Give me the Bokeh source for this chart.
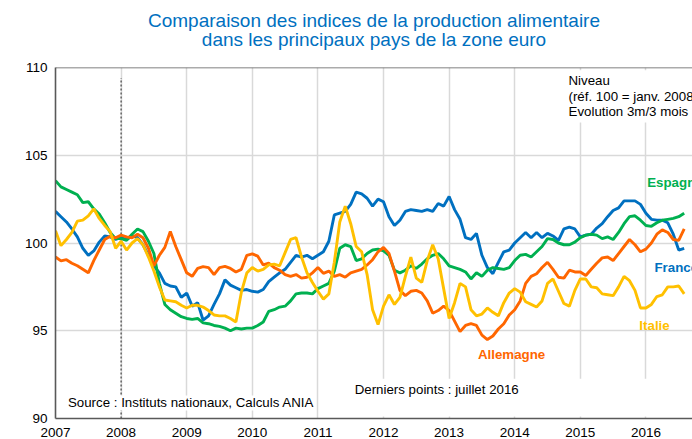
from bokeh.plotting import figure
from bokeh.models import Range1d, FixedTicker, Span, Label, BoxAnnotation, Title
from bokeh.embed import file_html
from bokeh.resources import INLINE

# ---- data (monthly, index 0 = January 2007) ----
n_months = 116
months = list(range(n_months))
year_ticks = [2007, 2008, 2009, 2010, 2011, 2012, 2013, 2014, 2015, 2016]
value_ticks = [90, 95, 100, 105, 110]
ref_year = [2008]  # base 100 = janv. 2008

france = [101.8, 101.5, 101.2, 100.8, 100.35, 99.7, 99.3, 99.55, 100.05, 100.4,
          100.35, 100.2, 100.3, 100.2, 100.4, 100.3, 99.9, 99.3, 98.7, 98.3,
          97.7, 97.55, 97.5, 96.9, 97.15, 96.4, 96.6, 95.6, 95.85, 96.5,
          97.1, 97.9, 97.6, 97.45, 97.3, 97.35, 97.25, 97.2, 97.35, 97.8,
          98.05, 98.3, 98.5, 98.9, 99.3, 99.2, 99.3, 99.1, 99.3, 99.5,
          100.1, 101.6, 101.7, 101.8, 102.2, 102.9, 102.8, 102.55, 102.1, 102.5,
          102.35, 101.5, 101.0, 101.3, 101.8, 101.9, 101.85, 101.8, 101.9, 101.8,
          102.25, 102.1, 102.65, 101.9, 101.35, 100.3, 100.2, 100.55, 99.3, 98.6,
          98.25, 98.9, 99.5, 99.6, 100.0, 100.3, 100.6, 100.3, 100.6, 100.3,
          100.55, 100.4, 100.15, 100.8, 100.9, 100.8, 100.35, 100.45, 100.5, 100.85,
          101.1, 101.5, 101.85, 102.0, 102.4, 102.4, 102.4, 102.2, 101.7, 101.35,
          101.3, 101.3, 101.15, 100.5, 99.6, 99.7]

allemagne = [99.2, 98.98, 99.05, 98.85, 98.7, 98.5, 98.3, 99.0, 99.6, 100.2,
             100.38, 100.3, 100.45, 100.35, 100.3, 100.5, 100.3, 99.7, 98.7, 99.3,
             99.75, 100.65, 99.8, 99.05, 98.3, 98.1, 98.55, 98.65, 98.6, 98.2,
             98.6, 98.67, 98.55, 98.35, 98.5, 99.3, 99.38, 99.25, 98.75, 98.85,
             98.6, 98.45, 98.2, 98.1, 98.2, 98.0, 98.05, 98.3, 98.6, 98.27,
             98.4, 98.1, 98.2, 98.05, 98.3, 98.4, 98.5, 98.75, 99.05, 99.5,
             99.75, 99.4, 98.4, 97.3, 97.0, 97.25, 97.3, 97.15, 96.7, 96.0,
             96.15, 96.4, 96.15, 95.55, 94.95, 95.3, 95.4, 95.3, 94.75, 94.5,
             94.7, 95.1, 95.4, 95.9, 96.2, 96.7, 97.7, 98.1, 98.25, 98.6,
             98.9, 98.5, 98.05, 98.0, 98.45, 98.35, 98.35, 98.15, 98.5, 98.85,
             99.15, 99.2, 99.0, 99.4, 99.8, 100.2, 99.9, 99.5, 99.65, 100.0,
             100.5, 100.75, 100.6, 100.2, 100.15, 100.8]

espagne = [103.55, 103.2, 103.05, 102.9, 102.75, 102.3, 102.35, 101.95, 101.65, 101.15,
           100.6, 100.25, 100.25, 100.15, 100.5, 100.8, 100.65, 100.1, 99.4, 97.7,
           96.5, 96.2, 96.0, 95.8, 95.7, 95.65, 95.7, 95.45, 95.4, 95.3,
           95.25, 95.15, 95.0, 95.15, 95.1, 95.15, 95.15, 95.3, 95.5, 96.1,
           96.2, 96.35, 96.4, 96.7, 97.1, 97.15, 97.15, 97.1, 97.4, 97.55,
           97.7, 98.4, 99.7, 99.9, 99.8, 99.0, 99.1, 99.4, 99.6, 99.65,
           99.55, 99.3, 98.45, 98.3, 98.45, 98.7, 98.55, 98.8, 99.1, 99.3,
           99.4, 99.1, 98.7, 98.6, 98.5, 98.35, 97.95, 98.3, 98.1, 98.45,
           98.6, 98.55, 98.5, 98.6, 99.0, 99.3, 99.35, 99.2, 99.5, 99.8,
           100.25, 100.2, 100.0, 99.9, 99.9, 100.05, 100.3, 100.45, 100.5, 100.45,
           100.25, 100.35, 100.2, 100.6, 101.1, 101.5, 101.55, 101.3, 101.0, 100.95,
           101.15, 101.3, 101.35, 101.4, 101.5, 101.7]

italie = [100.7, 99.85, 100.2, 100.6, 101.25, 101.3, 101.55, 101.95, 101.4, 101.0,
          100.65, 99.7, 100.1, 99.6, 100.0, 100.25, 99.9, 99.2, 98.4, 97.5,
          96.75, 96.7, 96.65, 96.45, 96.3, 96.45, 96.45, 96.35, 96.15, 95.9,
          95.85, 95.85, 95.7, 95.5, 97.2, 98.3, 98.6, 98.4, 98.5, 98.75,
          98.8, 98.7, 99.45, 100.2, 100.3, 99.2, 98.3, 97.75, 97.25, 96.8,
          97.1, 98.9, 101.2, 102.1, 101.1, 99.8, 99.5, 98.2, 96.2, 95.35,
          96.4, 97.05, 96.5, 96.9, 98.1, 99.2, 98.0, 97.75, 99.0, 99.9,
          99.1, 97.4, 95.7, 96.6, 97.7, 97.5, 96.2, 95.85, 95.95, 96.3,
          96.05, 95.85, 96.6, 97.15, 97.4, 97.2, 96.65, 96.5, 96.35, 96.7,
          97.7, 97.95, 97.25, 96.55, 96.4, 97.3, 97.95, 97.95, 97.5, 97.45,
          97.1, 97.05, 97.0, 97.5, 98.1, 97.85, 97.3, 96.3, 96.3, 96.5,
          96.95, 97.05, 97.5, 97.5, 97.55, 97.1]

dates = [2007 + m / 12 for m in months]

FONT = "Liberation Sans"
BLUE, GREEN, ORANGE, YELLOW = "#0070C0", "#00B050", "#FF6600", "#FFC000"
AXIS = "#595959"

p = figure(width=692, height=439, output_backend="svg", toolbar_location=None,
           x_range=Range1d(2007, 2016.71), y_range=Range1d(90, 110),
           min_border_left=55, min_border_right=0, min_border_top=67, min_border_bottom=0)
p.outline_line_color = None
p.background_fill_color = "white"
p.border_fill_color = "white"

# spacer between title and frame, then the two-line centred title
p.add_layout(Title(text=" ", text_font_size="1px", standoff=14), "above")
p.add_layout(Title(text="Comparaison des indices de la production alimentaire\n"
                        "dans les principaux pays de la zone euro",
                   align="center", text_align="center", text_font=FONT,
                   text_font_size="19px", text_font_style="normal", text_color=BLUE,
                   text_line_height=0.92, standoff=0), "above")

# axes
for ax in (p.xaxis, p.yaxis):
    ax.axis_line_color = AXIS
    ax.axis_line_width = 1.6
    ax.major_tick_line_color = None
    ax.minor_tick_line_color = None
    ax.major_tick_out = 0
    ax.major_tick_in = 0
    ax.minor_tick_out = 0
    ax.minor_tick_in = 0
    ax.major_label_text_font = FONT
    ax.major_label_text_font_size = "13.5px"
    ax.major_label_text_color = "#000000"
p.xaxis.ticker = FixedTicker(ticks=year_ticks)
p.yaxis.ticker = FixedTicker(ticks=value_ticks)
p.xaxis.major_label_standoff = 9
p.yaxis.major_label_standoff = 8

p.xgrid.ticker = FixedTicker(ticks=year_ticks)
p.ygrid.ticker = FixedTicker(ticks=value_ticks)
p.grid.grid_line_color = "#d9d9d9"
p.grid.grid_line_width = 1.5

# top frame line
p.add_layout(Span(location=110, dimension="width", line_color=AXIS, line_width=1.6))

# reference dashed line (janv. 2008)
p.segment(x0=ref_year, y0=[90], x1=ref_year, y1=[109.4], line_color="#404040",
          line_width=1.2, line_dash="2 2")

# series
p.line(dates, france, line_color=BLUE, line_width=2.9)
p.line(dates, espagne, line_color=GREEN, line_width=2.9)
p.line(dates, allemagne, line_color=ORANGE, line_width=2.9)
p.line(dates, italie, line_color=YELLOW, line_width=2.9)

# white boxes behind notes
p.add_layout(BoxAnnotation(left=2014.74, top=109.85, bottom=106.86, fill_color="white",
                           fill_alpha=1, line_color=None))
p.add_layout(BoxAnnotation(left=2011.47, top=92.26, bottom=90.12, fill_color="white",
                           fill_alpha=1, line_color=None))

def note(x, y, text, color="#000000", bold=False, bg=None, size="13.3px", align="left"):
    lab = Label(x=x, y=y, text=text, text_font=FONT, text_font_size=size,
                text_color=color, text_font_style="bold" if bold else "normal",
                text_baseline="alphabetic", text_align=align)
    if bg:
        lab.background_fill_color = bg
    p.add_layout(lab)

note(2014.82, 109.245, "Niveau")
note(2014.82, 108.355, "(réf. 100 = janv. 2008)")
note(2014.82, 107.485, "Evolution 3m/3 mois")
note(2016.02, 103.465, "Espagne", GREEN, True)
note(2016.13, 98.625, "France", BLUE, True)
note(2015.90, 95.285, "Italie", YELLOW, True)
note(2013.44, 93.675, "Allemagne", ORANGE, True)
note(2011.56, 91.635, "Derniers points : juillet 2016")
note(2007.19, 90.885, "Source : Instituts nationaux, Calculs ANIA", bg="white")

open("out.html", "w").write(file_html(p, INLINE))
